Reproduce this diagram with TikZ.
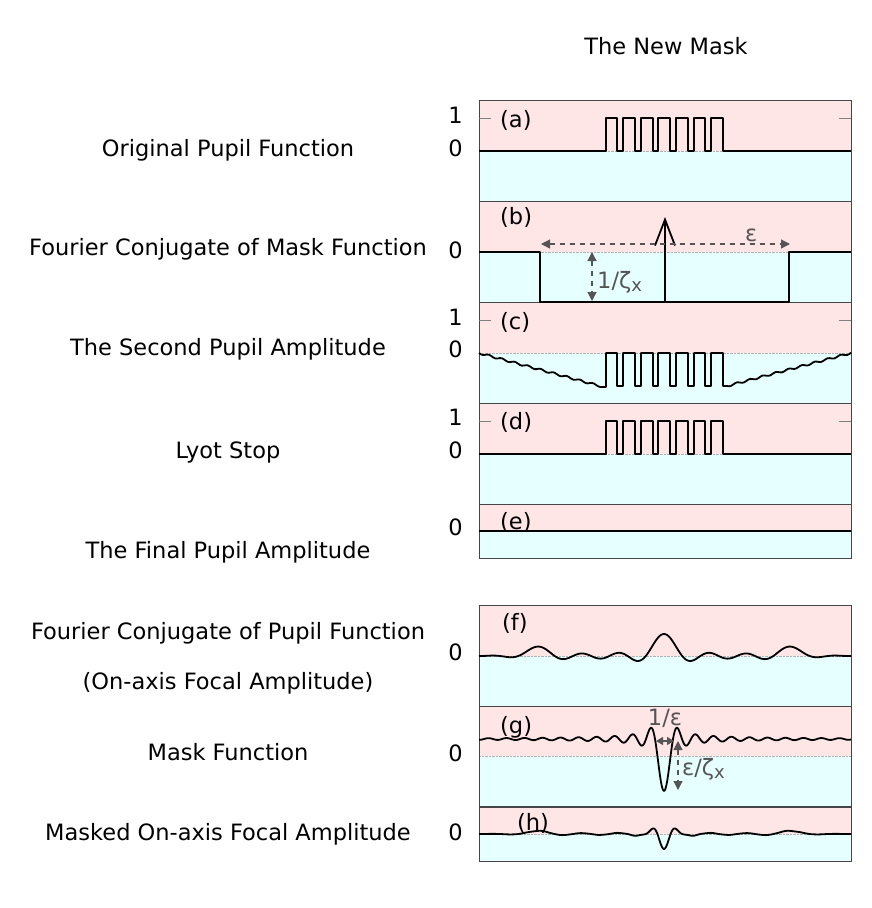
\documentclass[tikz,border=0pt]{standalone}
\usepackage{fontspec}
\setmainfont{DejaVu Sans}
\usetikzlibrary{arrows.meta}
\definecolor{pinkbg}{RGB}{255,230,230}
\definecolor{cyanbg}{RGB}{230,255,255}
\definecolor{framegray}{RGB}{70,70,70}
\definecolor{notegray}{RGB}{85,85,85}
\newcommand{\zetax}{ζ\raisebox{-0.25ex}{\fontsize{18}{18}\selectfont x}}

\begin{document}
\begin{tikzpicture}[x=1pt,y=-1pt,
  every node/.style={inner sep=0pt,font=\fontsize{22.5}{27}\selectfont},
  title/.style={anchor=base},
  level/.style={anchor=base east},
  tag/.style={anchor=base west},
  note/.style={anchor=base west,text=notegray},
  frame/.style={draw=framegray,line width=0.9pt},
  zeroline/.style={gray!60,line width=0.4pt,densely dotted},
  tick/.style={gray,line width=0.6pt},
  curve/.style={black,line width=1.8pt,line join=round},
  dimline/.style={notegray,line width=1.2pt,dash pattern=on 5pt off 5pt,{Triangle[length=9pt,width=9pt]}-{Triangle[length=9pt,width=9pt]}},
  declare function={dirich(\u)=(1+2*cos(360*\u)+2*cos(720*\u)+2*cos(1080*\u))/7;
    sincf(\t)=sin(180*\t)/(pi*\t);
    pupft(\u)=dirich(\u)*sincf(0.66*\u);
    maskfn(\t)=1-3.06*sincf(\t);}]
\useasboundingbox (0,0) rectangle (872,908);

\node [title] (newmask) at (666,54) {The New Mask};
\node [title] (origpf) at (228,156) {Original Pupil Function};
\node [title] (fcmask) at (228,255) {Fourier Conjugate of Mask Function};
\node [title] (secpa) at (228,355) {The Second Pupil Amplitude};
\node [title] (lyot) at (228,458) {Lyot Stop};
\node [title] (finpa) at (228,558) {The Final Pupil Amplitude};
\node [title] (fcpupil) at (228,639) {Fourier Conjugate of Pupil Function};
\node [title] (onaxis) at (228,689) {(On-axis Focal Amplitude)};
\node [title] (maskfun) at (228,760) {Mask Function};
\node [title] (maskedfa) at (228,840) {Masked On-axis Focal Amplitude};

\fill [pinkbg] (479,100) rectangle (851,151);
\fill [cyanbg] (479,151) rectangle (851,201);
\fill [pinkbg] (479,201) rectangle (851,252);
\fill [cyanbg] (479,252) rectangle (851,302);
\fill [pinkbg] (479,302) rectangle (851,353);
\fill [cyanbg] (479,353) rectangle (851,403);
\fill [pinkbg] (479,403) rectangle (851,454);
\fill [cyanbg] (479,454) rectangle (851,504);
\fill [pinkbg] (479,504) rectangle (851,531);
\fill [cyanbg] (479,531) rectangle (851,558);
\fill [pinkbg] (479,605) rectangle (851,656);
\fill [cyanbg] (479,656) rectangle (851,706);
\fill [pinkbg] (479,706) rectangle (851,756);
\fill [cyanbg] (479,756) rectangle (851,806);
\fill [pinkbg] (479,807) rectangle (851,834);
\fill [cyanbg] (479,834) rectangle (851,861);

\draw [zeroline] (479,151) -- (851,151);
\draw [zeroline] (479,252) -- (851,252);
\draw [zeroline] (479,353) -- (851,353);
\draw [zeroline] (479,454) -- (851,454);
\draw [zeroline] (479,656) -- (851,656);
\draw [zeroline] (479,756) -- (851,756);
\draw [zeroline] (479,834) -- (851,834);

\draw [frame] (479,100) rectangle (851,201);
\draw [frame] (479,201) rectangle (851,302);
\draw [frame] (479,302) rectangle (851,403);
\draw [frame] (479,403) rectangle (851,504);
\draw [frame] (479,504) rectangle (851,558);
\draw [frame] (479,605) rectangle (851,706);
\draw [frame] (479,706) rectangle (851,806);
\draw [frame] (479,807) rectangle (851,861);

\draw [tick] (479,118) -- (491,118);
\draw [tick] (839,118) -- (851,118);
\draw [tick] (479,320) -- (491,320);
\draw [tick] (839,320) -- (851,320);
\draw [tick] (479,421) -- (491,421);
\draw [tick] (839,421) -- (851,421);

\node [level] (oneA) at (463,123) {1};
\node [level] (zeroA) at (463,156) {0};
\node [level] (zeroB) at (463,258) {0};
\node [level] (oneC) at (463,325) {1};
\node [level] (zeroC) at (463,357) {0};
\node [level] (oneD) at (463,425) {1};
\node [level] (zeroD) at (463,458) {0};
\node [level] (zeroE) at (463,535) {0};
\node [level] (zeroF) at (463,660) {0};
\node [level] (zeroG) at (463,761) {0};
\node [level] (zeroH) at (463,840) {0};

\node [tag] (tagA) at (500,127) {(a)};
\node [tag] (tagB) at (500,224) {(b)};
\node [tag] (tagC) at (500,329) {(c)};
\node [tag] (tagD) at (500,429) {(d)};
\node [tag] (tagE) at (500,529) {(e)};
\node [tag] (tagF) at (502,630) {(f)};
\node [tag] (tagG) at (500,733) {(g)};
\node [tag] (tagH) at (517,830) {(h)};

\draw [curve] (479,151) -| (606,118) -| (617,151) -| (623,118) -| (635,151) -| (641,118) -| (653,151) -| (658,118) -| (670,151) -| (676,118) -| (688,151) -| (694,118) -| (705,151) -| (711,118) -| (723,151) -- (851,151);

\draw [curve] (479,252) -| (540,302) -| (789,252) -- (851,252);
\coordinate (deltabase) at (665,302);
\coordinate (deltatip) at (665,217);
\draw [curve,-{Straight Barb[length=26pt,width=20pt]}] (deltabase) -- (deltatip);
\coordinate (epsleft) at (541,244);
\coordinate (epsright) at (790,244);
\draw [dimline] (epsleft) -- (epsright);
\node [note] (epslab) at (745,241) {ε};
\coordinate (depthtop) at (592,252);
\coordinate (depthbot) at (592,301);
\draw [dimline] (depthtop) -- (depthbot);
\node [note] (depthlab) at (597,288) {1/\zetax};

\draw [curve] plot [domain=479:600,samples=60] (\x,{353+33*(\x-479)/121+1*sin(27.7*(\x-479))}) -| (606,353) -| (617,386) -| (623,353) -| (635,386) -| (641,353) -| (653,386) -| (658,353) -| (670,386) -| (676,353) -| (688,386) -| (694,353) -| (705,386) -| (711,353) -| (723,386) -- (727,386) -- plot [domain=727:851,samples=60] (\x,{386-33*(\x-727)/124+1*sin(27.7*(\x-727))});

\draw [curve] (479,454) -| (606,421) -| (617,454) -| (623,421) -| (635,454) -| (641,421) -| (653,454) -| (658,421) -| (670,454) -| (676,421) -| (688,454) -| (694,421) -| (705,454) -| (711,421) -| (723,454) -- (851,454);

\draw [curve] (479,531) -- (851,531);

\draw [curve] plot [domain=-185:187,samples=400] ({664+\x},{656-22*pupft(\x/127.5)});

\draw [curve] plot [domain=-185:187,samples=400] ({664+\x},{756-17*maskfn(\x/9)});
\coordinate (widthleft) at (656,741);
\coordinate (widthright) at (674,741);
\draw [notegray,line width=1.2pt,{Triangle[length=7pt,width=8pt]}-{Triangle[length=7pt,width=8pt]}] (widthleft) -- (widthright);
\node [note,anchor=base] (widthlab) at (665,725) {1/ε};
\coordinate (diptop) at (678,741);
\coordinate (dipbot) at (678,790);
\draw [dimline] (diptop) -- (dipbot);
\node [note] (diplab) at (682,775) {ε/\zetax};

\draw [curve] plot [domain=-185:187,samples=400] ({664+\x},{834-7.3*pupft(\x/127.5)*maskfn(\x/9)});
\end{tikzpicture}
\end{document}
